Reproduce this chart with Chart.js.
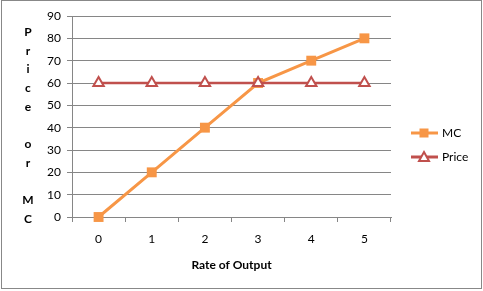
<!DOCTYPE html>
<html>
<head>
<meta charset="utf-8">
<script src="https://cdn.jsdelivr.net/npm/chart.js@4/dist/chart.umd.min.js"></script>
<style>
  html, body { margin: 0; padding: 0; background: #fff; }
  #wrap { position: relative; width: 483px; height: 291px; }
</style>
</head>
<body>
<div id="wrap"><canvas id="c" width="483" height="291"></canvas></div>
<script>
// ─── DATA ─────────────────────────────────────────────
const OUTPUT = ['0', '1', '2', '3', '4', '5'];
const MC     = [0, 20, 40, 60, 70, 80];
const PRICE  = [60, 60, 60, 60, 60, 60];
const Y_TICKS = { min: 0, max: 90, step: 10 };
const Y_TITLE = ['P', 'r', 'i', 'c', 'e', '', 'o', 'r', '', 'M', 'C'];
const X_TITLE = 'Rate of Output';

const MC_COLOR = '#F79646';
const PRICE_COLOR = '#C0504D';
const GRID = '#868686';
const FONT = 'Lato, "Open Sans", sans-serif';

// outer frame, stacked y title, excel-style legend
const decor = {
  id: 'decor',
  afterDraw(chart) {
    const ctx = chart.ctx;
    ctx.save();
    ctx.strokeStyle = '#888';
    ctx.lineWidth = 1;
    ctx.strokeRect(1.5, 0.5, 480, 288);

    ctx.fillStyle = '#000';
    ctx.font = 'bold 12px ' + FONT;
    ctx.textAlign = 'center';
    ctx.textBaseline = 'middle';
    Y_TITLE.forEach((ch, i) => ctx.fillText(ch, 28, 32 + i * 18.7));

    const items = [
      { label: 'MC', color: MC_COLOR, y: 133, kind: 'rect' },
      { label: 'Price', color: PRICE_COLOR, y: 157, kind: 'tri' }
    ];
    items.forEach(it => {
      ctx.strokeStyle = it.color;
      ctx.lineWidth = 3;
      ctx.beginPath();
      ctx.moveTo(411, it.y); ctx.lineTo(438, it.y);
      ctx.stroke();
      if (it.kind === 'rect') {
        ctx.fillStyle = it.color;
        ctx.fillRect(424 - 4.5, it.y - 4.5, 9, 9);
      } else {
        ctx.fillStyle = '#fff';
        ctx.lineWidth = 2;
        ctx.beginPath();
        ctx.moveTo(424, it.y - 5);
        ctx.lineTo(429, it.y + 4);
        ctx.lineTo(419, it.y + 4);
        ctx.closePath();
        ctx.fill(); ctx.stroke();
      }
      ctx.fillStyle = '#000';
      ctx.font = '12px ' + FONT;
      ctx.textAlign = 'left';
      ctx.fillText(it.label, 442, it.y);
    });
    ctx.restore();
  }
};

new Chart(document.getElementById('c'), {
  type: 'line',
  data: {
    labels: OUTPUT,
    datasets: [
      {
        label: 'MC',
        data: MC,
        order: 2,
        clip: false,
        borderColor: MC_COLOR,
        backgroundColor: MC_COLOR,
        borderWidth: 3,
        pointStyle: 'rect',
        pointRadius: 7,
        pointBorderWidth: 0,
        tension: 0
      },
      {
        label: 'Price',
        data: PRICE,
        order: 1,
        clip: false,
        borderColor: PRICE_COLOR,
        backgroundColor: '#fff',
        borderWidth: 2.5,
        pointStyle: 'triangle',
        pointRadius: 6,
        pointBorderWidth: 2,
        tension: 0
      }
    ]
  },
  options: {
    responsive: false,
    animation: false,
    layout: { padding: { top: 16, right: 92, left: 0, bottom: 0 } },
    plugins: {
      legend: { display: false },
      tooltip: { enabled: false }
    },
    scales: {
      x: {
        offset: true,
        afterFit: s => { s.height = 74; },
        grid: { display: true, drawOnChartArea: false, color: GRID, tickLength: 5, offset: true },
        border: { color: GRID, width: 1 },
        ticks: { color: '#000', font: { family: FONT, size: 12 }, padding: 10 },
        title: {
          display: true,
          text: X_TITLE,
          color: '#000',
          font: { family: FONT, size: 12, weight: 'bold' },
          padding: { top: 0, bottom: 19 }
        }
      },
      y: {
        min: Y_TICKS.min,
        max: Y_TICKS.max,
        afterFit: s => { s.width = 72; },
        grid: { color: GRID, tickLength: 5 },
        border: { color: GRID, width: 1 },
        ticks: { stepSize: Y_TICKS.step, color: '#000', font: { family: FONT, size: 12 }, padding: 6 }
      }
    }
  },
  plugins: [decor]
});
</script>
</body>
</html>
